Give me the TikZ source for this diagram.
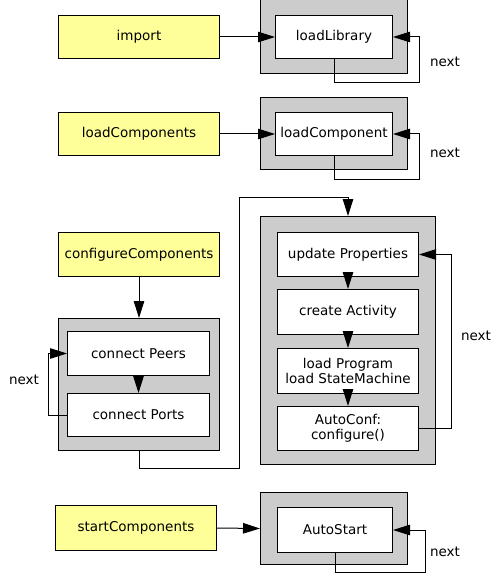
\documentclass[tikz,border=0pt]{standalone}
\usepackage{fontspec}
\setmainfont{DejaVu Sans}
\usetikzlibrary{arrows.meta}
\definecolor{ylw}{HTML}{FFFF99}
\definecolor{gry}{HTML}{CCCCCC}
\tikzset{
  bx/.style={draw, line width=1pt, inner sep=0pt, anchor=north west, align=center,
    font=\fontsize{13.5}{15.5}\selectfont},
  yb/.style={bx, fill=ylw},
  gb/.style={bx, fill=gry},
  wb/.style={bx, fill=white},
  arr/.style={line width=1pt, -{Triangle[length=17pt,width=10.5pt]}},
  lbl/.style={font=\fontsize{13.5}{15.5}\selectfont, inner sep=0pt}
}
\begin{document}
\begin{tikzpicture}[x=1pt,y=-1pt]
\useasboundingbox[fill=white] (0,0) rectangle (503,580);
\begin{scope}
\clip (0,0) rectangle (503,580);
% gray frames
\node[gb, minimum width=147pt, minimum height=74pt] (g1) at (260,-1) {};
\node[gb, minimum width=147pt, minimum height=72pt] (g2) at (260,97) {};
\node[gb, minimum width=161pt, minimum height=132pt] (g3) at (58,318) {};
\node[gb, minimum width=175pt, minimum height=248pt] (g4) at (260,216) {};
\node[gb, minimum width=147pt, minimum height=72pt] (g5) at (260,492) {};
% yellow
\node[yb, minimum width=161pt, minimum height=43pt] (imp) at (58,15) {import};
\node[yb, minimum width=161pt, minimum height=43pt] (lc) at (58,112) {loadComponents};
\node[yb, minimum width=161pt, minimum height=44pt] (cfg) at (58,232) {configureComponents};
\node[yb, minimum width=161pt, minimum height=45pt] (start) at (55,505) {startComponents};
% white
\node[wb, minimum width=117pt, minimum height=43pt] (lib) at (275,15) {loadLibrary};
\node[wb, minimum width=117pt, minimum height=43pt] (comp) at (275,112) {loadComponent};
\node[wb, minimum width=142pt, minimum height=44pt] (peers) at (67,331) {connect Peers};
\node[wb, minimum width=142pt, minimum height=43pt] (ports) at (67,393) {connect Ports};
\node[wb, minimum width=141pt, minimum height=44pt] (upd) at (277,232) {update Properties};
\node[wb, minimum width=141pt, minimum height=45pt] (act) at (277,289) {create Activity};
\node[wb, minimum width=141pt, minimum height=45pt] (prog) at (277,348) {load Program\\load StateMachine};
\node[wb, minimum width=141pt, minimum height=44pt] (auto) at (277,406) {AutoConf:\\configure()};
\node[wb, minimum width=115pt, minimum height=45pt] (as) at (277,507) {AutoStart};
% connectors
\draw[arr] (imp.east) -- (lib.west);
\draw[arr] (lib.south) -- ++(0,24) -| ([xshift=26pt]lib.east) -- (lib.east);
\draw[arr] (lc.east) -- (comp.west);
\draw[arr] (comp.south) -- ++(0,23) -| ([xshift=26pt]comp.east) -- (comp.east);
\draw[arr] (cfg.south) -- (g3.north);
\draw[arr] (peers.south) -- (ports.north);
\draw[arr] (ports.west) -- ++(-19,0) |- (peers.west);
\coordinate (c1) at (239,468);
\coordinate (c2) at (239,197);
\draw[arr] (g3.south) |- (c1) -- (c2) -| (g4.north);
\draw[arr] (upd.south) -- (act.north);
\draw[arr] (act.south) -- (prog.north);
\draw[arr] (prog.south) -- (auto.north);
\draw[arr] (auto.east) -- ++(32,0) |- (upd.east);
\draw[arr] (start.east) -- (g5.west);
\draw[arr] (as.south) -- ++(0,19) -| ([xshift=32pt]as.east) -- (as.east);
% labels
\node[lbl] (n1) at (445,62) {next};
\node[lbl] (n2) at (445,153) {next};
\node[lbl] (n3) at (476,336) {next};
\node[lbl] (n4) at (24,380) {next};
\node[lbl] (n5) at (445,552) {next};
\end{scope}
\end{tikzpicture}
\end{document}
